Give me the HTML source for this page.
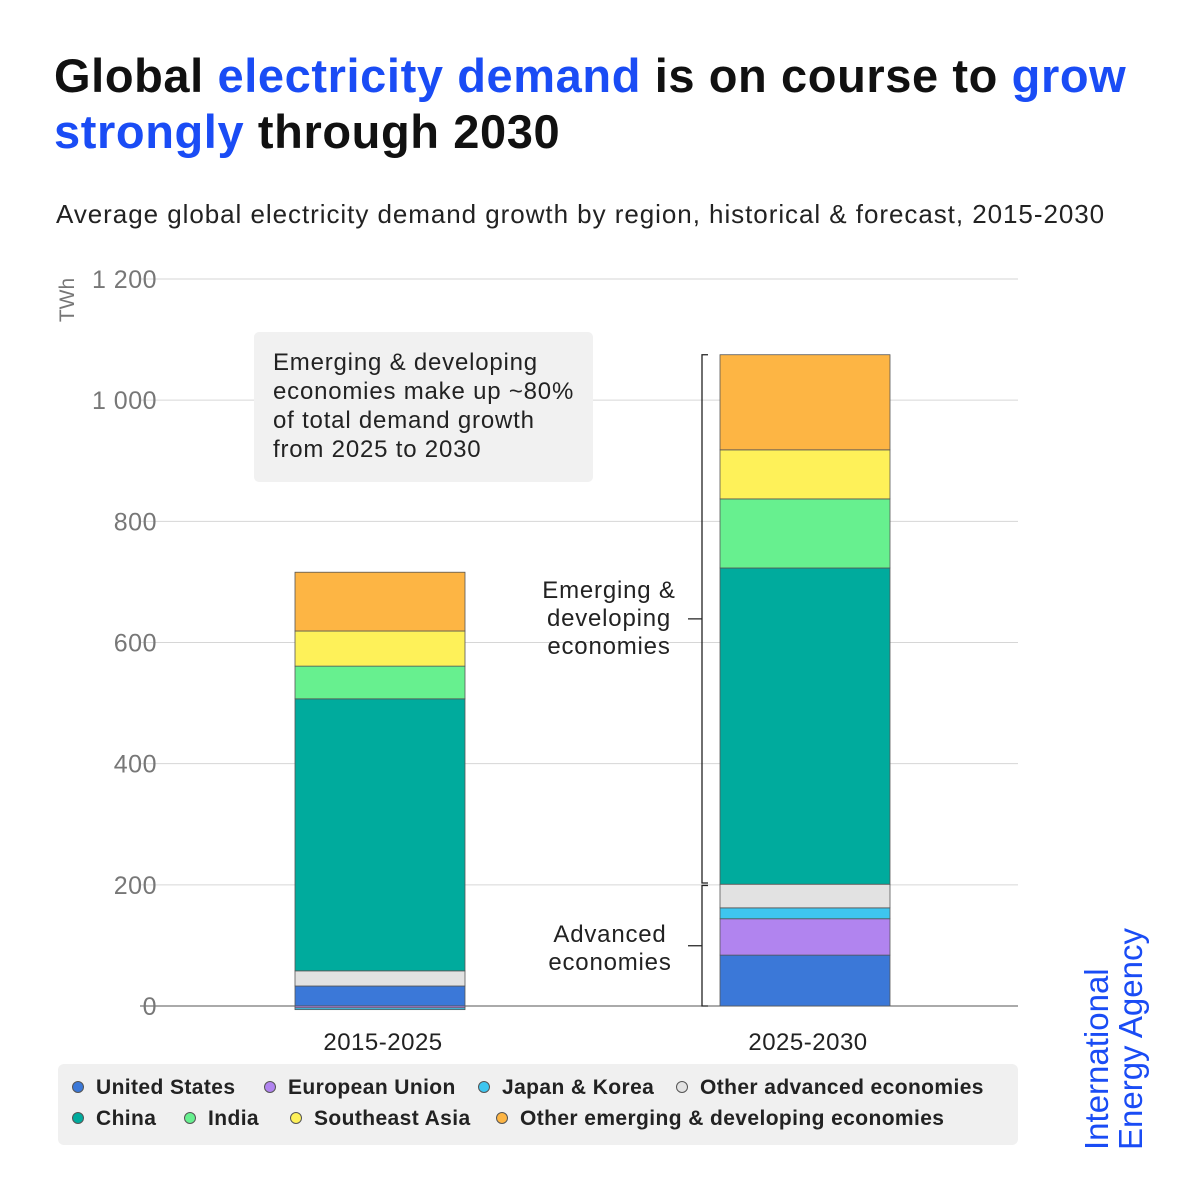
<!DOCTYPE html>
<html><head><meta charset="utf-8"><style>
body{margin:0;width:1200px;height:1200px;background:#fff;font-family:"Liberation Sans",sans-serif;overflow:hidden;position:relative}
.t{position:absolute;left:54px;top:48px;font-size:47px;font-weight:bold;line-height:56px;color:#111;letter-spacing:0.6px}
.b{color:#1a4cf5}
.sub{position:absolute;left:56px;top:199px;font-size:26px;color:#222;letter-spacing:0.95px}
.leg{position:absolute;left:58px;top:1064px;width:960px;height:81px;background:#f0f0f0;border-radius:6px}
.li{position:absolute;font-size:21px;font-weight:bold;color:#222;white-space:nowrap;letter-spacing:0.4px}
.dot{display:inline-block;width:12px;height:12px;border-radius:50%;margin-right:12px;vertical-align:1px;border:1px solid #555;box-sizing:border-box}
.iea{position:absolute;left:1080px;top:1150px;transform:rotate(-90deg);transform-origin:0 0;color:#1a4cf5;font-size:33px;line-height:34px;width:240px}
</style></head><body>
<div class="t">Global <span class="b">electricity demand</span> is on course to <span class="b">grow<br>strongly</span> through 2030</div>
<div class="sub">Average global electricity demand growth by region, historical &amp; forecast, 2015-2030</div>
<svg id="c" width="1200" height="1200" style="position:absolute;left:0;top:0"></svg>
<div class="leg">
<div class="li" style="left:14px;top:12px"><span class="dot" style="background:#3b78d8"></span>United States</div>
<div class="li" style="left:206px;top:12px"><span class="dot" style="background:#b184ef"></span>European Union</div>
<div class="li" style="left:420px;top:12px"><span class="dot" style="background:#3ec6f0"></span>Japan &amp; Korea</div>
<div class="li" style="left:618px;top:12px"><span class="dot" style="background:#e2e2e2"></span>Other advanced economies</div>
<div class="li" style="left:14px;top:43px"><span class="dot" style="background:#00ab9d"></span>China</div>
<div class="li" style="left:126px;top:43px"><span class="dot" style="background:#67f08f"></span>India</div>
<div class="li" style="left:232px;top:43px"><span class="dot" style="background:#fef159"></span>Southeast Asia</div>
<div class="li" style="left:438px;top:43px"><span class="dot" style="background:#fdb544"></span>Other emerging &amp; developing economies</div>
</div>
<div class="iea">International<br>Energy Agency</div>
<script>
const categories=["2015-2025","2025-2030"];
const seriesNames=["United States","European Union","Japan & Korea","Other advanced economies","China","India","Southeast Asia","Other emerging & developing economies"];
const usVals=[33,84];
const euVals=[-3,60];
const jkVals=[-3,18];
const otherAdvVals=[25,39];
const chinaVals=[449,522];
const indiaVals=[54,114];
const seaVals=[58,81];
const otherEmVals=[97,157];
const ticks=[0,200,400,600,800,1000,1200];
const tickLabels=["0","200","400","600","800","1 000","1 200"];
const colors=["#3b78d8","#b184ef","#3ec6f0","#e2e2e2","#00ab9d","#67f08f","#fef159","#fdb544"];
const series=[usVals,euVals,jkVals,otherAdvVals,chinaVals,indiaVals,seaVals,otherEmVals];
const svg=document.getElementById('c');const NS='http://www.w3.org/2000/svg';
const y=v=>1006-v*727/1200;
const xc=i=>380+i*425;
function mk(t,a){const e=document.createElementNS(NS,t);for(const k in a)e.setAttribute(k,a[k]);svg.appendChild(e);return e;}
ticks.forEach((t,i)=>{
 const l=mk('line',{x1:140,x2:1018,y1:y(t),y2:y(t),stroke:t===0?'#555':'#d6d6d6','stroke-width':1});
 
 const tx=mk('text',{x:157,y:y(t)+9,'text-anchor':'end','font-size':25,fill:'#777','font-family':'Liberation Sans','letter-spacing':0.5});
 tx.textContent=tickLabels[i];
});
const yt=mk('text',{x:74,y:300,'text-anchor':'middle','font-size':21,fill:'#777',transform:'rotate(-90 74 300)','font-family':'Liberation Sans'});
yt.textContent='TWh';
categories.forEach((c,i)=>{
 let pos=0,neg=0;
 series.forEach((s,k)=>{
  const v=s[i];let y0,y1;
  if(v>=0){y0=pos;y1=pos+v;pos=y1;}else{y0=neg+v;y1=neg;neg=y0;}
  const r=mk('rect',{x:xc(i)-85,width:170,y:y(y1),height:Math.max(0,y(y0)-y(y1)),fill:colors[k],stroke:'#555','stroke-width':0.8});
  
  
 });
 const t=mk('text',{x:xc(i)+3,y:1050,'text-anchor':'middle','font-size':24,fill:'#222','font-family':'Liberation Sans','letter-spacing':0.5});
 t.textContent=c;
});
const adv=usVals[1]+euVals[1]+jkVals[1]+otherAdvVals[1];
const tot=adv+chinaVals[1]+indiaVals[1]+seaVals[1]+otherEmVals[1];
function bracket(a,b,name){
 const p=mk('path',{d:`M708 ${y(a)} H702 V${y(b)} H708 M702 ${(y(a)+y(b))/2} H688`,stroke:'#222',fill:'none','stroke-width':1.3});
 
}
bracket(adv+2,tot,'bracket-emerging');bracket(0,adv-2,'bracket-advanced');
function label(lines,cx,top,name){lines.forEach((s,j)=>{const t=mk('text',{x:cx,y:top+j*28,'text-anchor':'middle','font-size':24,fill:'#222','font-family':'Liberation Sans','letter-spacing':0.8});t.textContent=s;});}
label(['Emerging &','developing','economies'],609,598,'emerging-label');
label(['Advanced','economies'],610,942,'advanced-label');
const box=mk('rect',{x:254,y:332,width:339,height:150,rx:5,fill:'#f1f1f1'});

['Emerging & developing','economies make up ~80%','of total demand growth','from 2025 to 2030'].forEach((s,j)=>{const t=mk('text',{x:273,y:370+j*29,'font-size':24,fill:'#222','font-family':'Liberation Sans','letter-spacing':0.8});t.textContent=s;});
</script>
</body></html>
